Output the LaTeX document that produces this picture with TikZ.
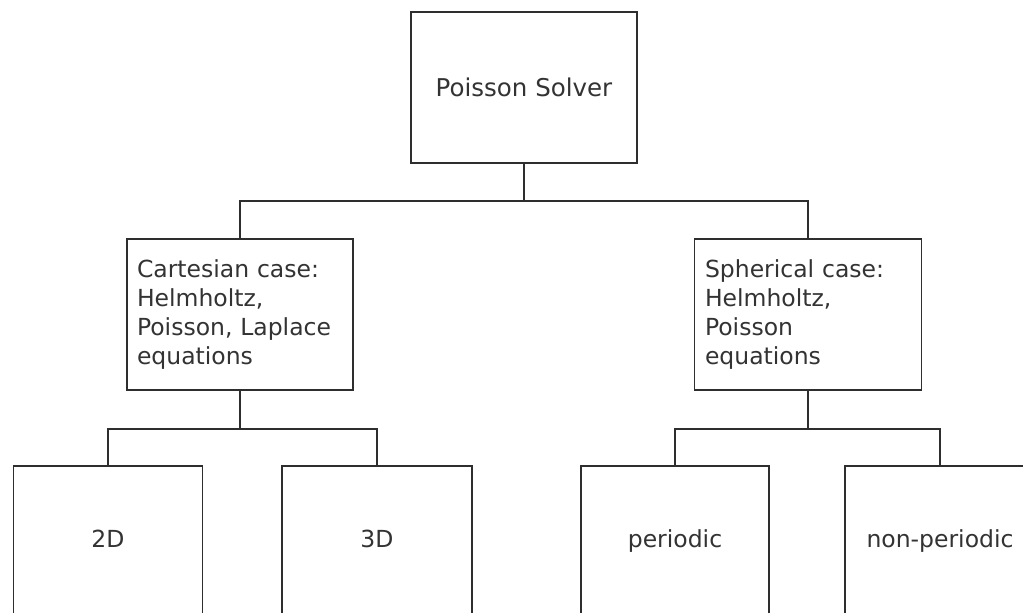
\documentclass[tikz,border=0pt]{standalone}
\usepackage{fontspec}
\setmainfont{DejaVu Sans}
\definecolor{ink}{HTML}{333333}
\definecolor{edge}{HTML}{2E2E2E}
\begin{document}
\begin{tikzpicture}[x=1pt,y=-1pt,
  box/.style={draw=edge,line width=1.9pt,rectangle,outer sep=0pt,inner sep=0pt,
    minimum height=151pt,text=ink,font=\fontsize{23.5}{29}\selectfont},
  leaf/.style={box,text height=17pt,text depth=5pt},
  midbox/.style={box,minimum width=226pt,text width=206pt,align=left,inner xsep=10pt},
  wire/.style={draw=edge,line width=1.9pt}]
  \clip (0,0) rectangle (1023,613);
  \fill[white] (0,0) rectangle (1023,613);

  % root
  \node[box,minimum width=226pt,font=\fontsize{24.5}{30}\selectfont] (root) at (524,87.5) {Poisson Solver};

  % second level
  \node[midbox] (cart) at (240,314.5) {Cartesian case:\\Helmholtz,\\Poisson, Laplace\\equations};
  \node[midbox,minimum width=227pt] (sph) at (808,314.5) {Spherical case:\\Helmholtz,\\Poisson\\equations};

  % leaves
  \node[leaf,minimum width=189pt] (twod) at (108,541.5) {2D};
  \node[leaf,minimum width=190pt] (threed) at (377,541.5) {3D};
  \node[leaf,minimum width=188pt] (per) at (675,541.5) {periodic};
  \node[leaf,minimum width=190pt] (nonper) at (940,541.5) {non-periodic};

  % connectors
  \draw[wire] (root.south) -- ++(0,38) coordinate (j1);
  \draw[wire] (j1) -| (cart.north);
  \draw[wire] (j1) -| (sph.north);

  \draw[wire] (cart.south) -- ++(0,39) coordinate (j2);
  \draw[wire] (j2) -| (twod.north);
  \draw[wire] (j2) -| (threed.north);

  \draw[wire] (sph.south) -- ++(0,39) coordinate (j3);
  \draw[wire] (j3) -| (per.north);
  \draw[wire] (j3) -| (nonper.north);
\end{tikzpicture}
\end{document}
